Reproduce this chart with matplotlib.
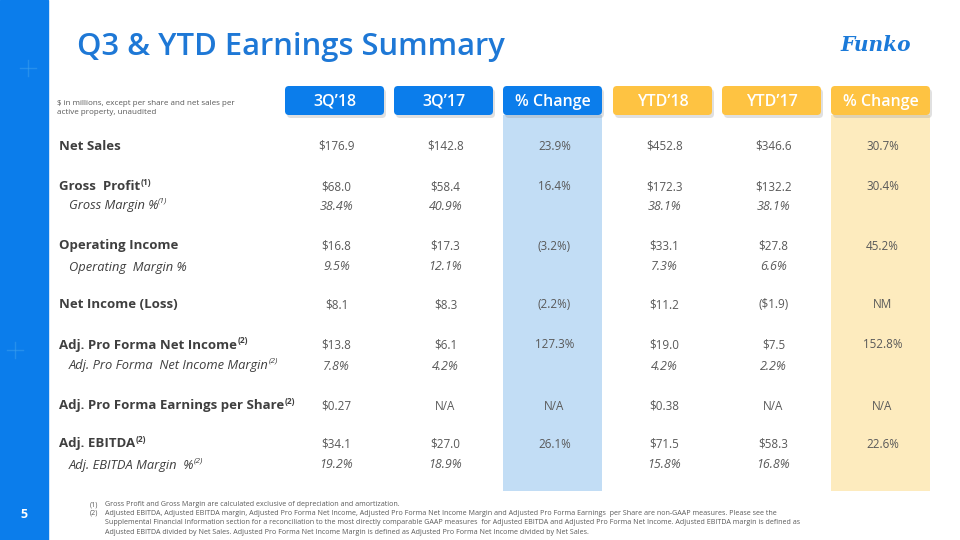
import matplotlib
matplotlib.use("Agg")
import matplotlib.pyplot as plt
from matplotlib.patches import FancyBboxPatch, Rectangle

# ---------------- data ----------------
title = "Q3 & YTD Earnings Summary"
unit_note = "$ in millions, except per share and net sales per\nactive property, unaudited"
headers = ["3Q\u201918", "3Q\u201917", "% Change", "YTD\u201918", "YTD\u201917", "% Change"]
labels = ["Net Sales", "Gross  Profit", "Gross Margin %", "Operating Income",
          "Operating  Margin %", "Net Income (Loss)", "Adj. Pro Forma Net Income",
          "Adj. Pro Forma  Net Income Margin", "Adj. Pro Forma Earnings per Share",
          "Adj. EBITDA", "Adj. EBITDA Margin  %"]
label_sup = ["", "(1)", "(1)", "", "", "", "(2)", "(2)", "(2)", "(2)", "(2)"]
is_sub = [False, False, True, False, True, False, False, True, False, False, True]
q3_18 = ["$176.9", "$68.0", "38.4%", "$16.8", "9.5%", "$8.1", "$13.8", "7.8%", "$0.27", "$34.1", "19.2%"]
q3_17 = ["$142.8", "$58.4", "40.9%", "$17.3", "12.1%", "$8.3", "$6.1", "4.2%", "N/A", "$27.0", "18.9%"]
q3_chg = ["23.9%", "16.4%", "", "(3.2%)", "", "(2.2%)", "127.3%", "", "N/A", "26.1%", ""]
ytd_18 = ["$452.8", "$172.3", "38.1%", "$33.1", "7.3%", "$11.2", "$19.0", "4.2%", "$0.38", "$71.5", "15.8%"]
ytd_17 = ["$346.6", "$132.2", "38.1%", "$27.8", "6.6%", "($1.9)", "$7.5", "2.2%", "N/A", "$58.3", "16.8%"]
ytd_chg = ["30.7%", "30.4%", "", "45.2%", "", "NM", "152.8%", "", "N/A", "22.6%", ""]
footnotes = [
    ("(1)", "Gross Profit and Gross Margin are calculated exclusive of depreciation and amortization."),
    ("(2)", "Adjusted EBITDA, Adjusted EBITDA margin, Adjusted Pro Forma Net Income, Adjusted Pro Forma Net Income Margin and Adjusted Pro Forma Earnings  per Share are non-GAAP measures. Please see the\n"
            "Supplemental Financial Information section for a reconciliation to the most directly comparable GAAP measures  for Adjusted EBITDA and Adjusted Pro Forma Net Income. Adjusted EBITDA margin is defined as\n"
            "Adjusted EBITDA divided by Net Sales. Adjusted Pro Forma Net Income Margin is defined as Adjusted Pro Forma Net Income divided by Net Sales."),
]
page_number = "5"

# ---------------- style ----------------
BLUE = "#0B7DEB"
TITLE_BLUE = "#1E78D6"
YELLOW = "#FEC342"
LIGHT_BLUE = "#C2DDF5"
LIGHT_YELLOW = "#FDEBBE"
LABEL_C = "#3F3F3F"
VAL_C = "#595959"
FONT = "Open Sans"

fig = plt.figure(figsize=(9.6, 5.4), dpi=100)
ax = fig.add_axes([0, 0, 1, 1])
ax.set_xlim(0, 960)
ax.set_ylim(540, 0)
ax.axis("off")
plt.rcParams["font.family"] = [FONT, "DejaVu Sans"]

# left bar
ax.add_patch(Rectangle((0, 0), 48, 540, color=BLUE, zorder=1))
for (sx, sy, s) in [(28, 68, 16), (15, 350, 16)]:
    ax.plot([sx - s / 2, sx + s / 2], [sy, sy], color="#40A2EE", lw=1.0, alpha=0.5, zorder=2)
    ax.plot([sx, sx], [sy - s / 2, sy + s / 2], color="#40A2EE", lw=1.0, alpha=0.5, zorder=2)
ax.text(24, 515, page_number, color="white", fontsize=9, fontweight="bold",
        ha="center", va="center", family=FONT, zorder=3)

# title & logo
ax.text(77, 47, title, color=TITLE_BLUE, fontsize=22.3, fontweight="semibold",
        ha="left", va="center", family=FONT)
ax.text(876, 45, "Funko", color="#1B7AD9", fontsize=14.5, fontweight="bold",
        fontstyle="italic", ha="center", va="center", family="DejaVu Serif")

ax.text(57, 108, unit_note, color=VAL_C, fontsize=5.8, ha="left", va="center",
        family=FONT, linespacing=1.25)

# columns
col_left = [285, 394, 503, 613, 722, 831]
col_w = 99
col_colors = [BLUE, BLUE, BLUE, YELLOW, YELLOW, YELLOW]
# shaded % change columns
ax.add_patch(Rectangle((503, 115), col_w, 376, color=LIGHT_BLUE, zorder=1, lw=0))
ax.add_patch(Rectangle((831, 115), col_w, 376, color=LIGHT_YELLOW, zorder=1, lw=0))

for x0, h, c in zip(col_left, headers, col_colors):
    ax.add_patch(FancyBboxPatch((x0 + 2, 89), col_w, 29,
                                boxstyle="round,pad=0,rounding_size=4",
                                fc="#9A9A9A", ec="none", alpha=0.3, zorder=2))
    ax.add_patch(FancyBboxPatch((x0, 86), col_w, 29,
                                boxstyle="round,pad=0,rounding_size=4",
                                fc=c, ec="none", zorder=3))
    ax.text(x0 + col_w / 2, 102, h, color="white", fontsize=11.5, fontweight="semibold",
            ha="center", va="center", family=FONT, zorder=4)

row_y = [146, 187, 206, 246, 267, 305, 345, 366, 406, 444, 465]

fig.canvas.draw()
renderer = fig.canvas.get_renderer()

for i, (lab, sup, sub) in enumerate(zip(labels, label_sup, is_sub)):
    y = row_y[i]
    if sub:
        t = ax.text(69, y, lab, color=LABEL_C, fontsize=9.3, fontstyle="italic",
                    ha="left", va="center", family=FONT, zorder=4)
    else:
        t = ax.text(59, y, lab, color=LABEL_C, fontsize=9.5, fontweight="bold",
                    ha="left", va="center", family=FONT, zorder=4)
    if sup:
        bb = t.get_window_extent(renderer=renderer)
        xr = bb.x1 * 960 / fig.bbox.width
        ax.text(xr + (-0.5 if sub else 0.5), y - 4.5, sup, color=LABEL_C, fontsize=6,
                fontweight="normal" if sub else "bold",
                fontstyle="italic" if sub else "normal",
                ha="left", va="center", family=FONT, zorder=4)

series = [q3_18, q3_17, q3_chg, ytd_18, ytd_17, ytd_chg]
for x0, vals in zip(col_left, series):
    for i, v in enumerate(vals):
        if not v:
            continue
        ax.text(x0 + col_w / 2 + 2, row_y[i], v, color=VAL_C,
                fontsize=9 if is_sub[i] else 8.4,
                fontstyle="italic" if is_sub[i] else "normal",
                ha="center", va="center", family=FONT, zorder=4)

# footnotes
fy = [501, 510]
for (num, txt), y in zip(footnotes, fy):
    ax.text(90, y, num, color=VAL_C, fontsize=5.15, ha="left", va="top", family=FONT)
    ax.text(105, y, txt, color=VAL_C, fontsize=5.15, ha="left", va="top", family=FONT,
            linespacing=1.45)

fig.savefig("out.png", dpi=100)
